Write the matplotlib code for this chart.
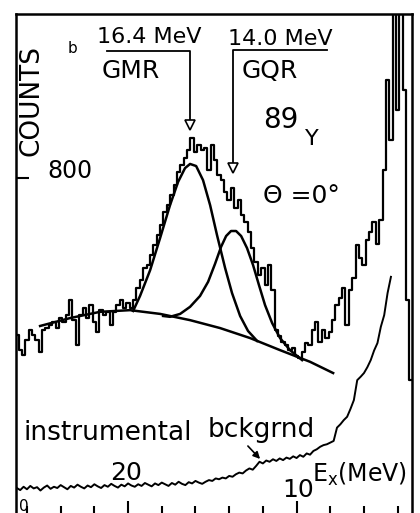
import numpy as np
import matplotlib.pyplot as plt
from matplotlib.transforms import blended_transform_factory

plt.rcParams.update({"font.family": "DejaVu Sans", "mathtext.fontset": "dejavusans"})

# 89Y spectrum at 0 deg, channels of 0.2 MeV (Ex decreasing to the right)
energy = np.linspace(26.6, 3.2, 118)
counts = [422, 386, 374, 410, 434, 422, 410, 382, 434, 439,
          446, 454, 439, 463, 454, 470, 506, 458, 398, 470,
          487, 463, 494, 454, 430, 482, 470, 478, 446, 478,
          494, 506, 487, 499, 487, 506, 535, 554, 583, 590,
          614, 638, 662, 686, 718, 734, 758, 782, 814, 830,
          847, 866, 895, 862, 878, 866, 871, 818, 878, 842,
          806, 794, 766, 746, 775, 727, 746, 710, 694, 670,
          631, 598, 566, 583, 542, 590, 530, 434, 420, 406,
          398, 386, 391, 372, 367, 382, 403, 398, 434, 454,
          406, 434, 415, 430, 458, 494, 511, 535, 446, 530,
          559, 638, 607, 590, 650, 670, 694, 641, 698, 818,
          1034, 890, 1400, 962, 1400, 1010, 506, 314]

# instrumental background (first 112 channels)
instr_counts = [55, 50, 58, 52, 60, 54, 57, 49, 56, 61,
                53, 58, 55, 62, 57, 52, 60, 56, 63, 58,
                54, 61, 57, 64, 59, 55, 62, 58, 65, 60,
                56, 63, 59, 66, 61, 58, 64, 60, 67, 63,
                59, 66, 62, 68, 64, 60, 67, 63, 70, 65,
                62, 69, 66, 72, 68, 65, 70, 74, 72, 78,
                76, 80, 78, 84, 82, 88, 92, 90, 97, 102,
                99, 108, 118, 114, 121, 118, 124, 120, 126, 122,
                128, 125, 131, 127, 134, 130, 138, 135, 144, 148,
                154, 158, 160, 164, 168, 200, 208, 218, 226, 245,
                266, 314, 322, 331, 345, 362, 385, 403, 442, 470,
                523, 562]

# fitted continuum
bg_e = [25.22, 23.44, 21.66, 19.88, 18.10, 16.32, 14.54, 12.76, 10.98, 9.20, 7.83]
bg_c = [444, 463, 478, 482, 473, 458, 439, 415, 386, 358, 331]

# GMR component (on top of continuum)
gmr_e = [19.70, 19.29, 18.69, 18.10, 17.51, 17.03, 16.62, 16.32, 15.96,
         15.55, 15.13, 14.72, 14.24, 13.83, 13.35, 12.88, 12.34]
gmr_c = [480, 516, 578, 655, 734, 790, 823, 833, 828,
         794, 734, 662, 583, 523, 468, 432, 408]

# GQR component (on top of continuum)
gqr_e = [17.92, 17.51, 16.91, 16.32, 15.73, 15.25, 14.84, 14.48, 14.18, 13.89,
         13.59, 13.29, 12.94, 12.58, 12.23, 11.87, 11.45, 10.98, 10.39, 9.67]
gqr_c = [468, 466, 473, 490, 516, 550, 593, 634, 660, 672,
         672, 660, 631, 590, 542, 494, 451, 415, 386, 362]

W, H = 420, 513
def px(x, y):
    return x / W, 1 - y / H

fig = plt.figure(figsize=(W / 100, H / 100), dpi=100)
ax = fig.add_axes([16 / W, 0, (412 - 16) / W, (513 - 14) / H])
ax.set_xlim(26.65, 3.15)
ax.set_ylim(-5, 1193)

ax.plot(energy, counts, drawstyle="steps-mid", color="k", lw=1.6)
ax.plot(energy[:len(instr_counts)], instr_counts, color="k", lw=1.4)
ax.plot(bg_e, bg_c, color="k", lw=1.8)
ax.plot(gmr_e, gmr_c, color="k", lw=1.8)
ax.plot(gqr_e, gqr_c, color="k", lw=1.8)

# arrows to resonance centroids
ax.plot([21.25, 16.3, 16.3], [1104, 1104, 935], color="k", lw=1.3)
ax.plot([16.3], [926], marker="v", ms=7, mfc="white", mec="k", mew=1.2)
ax.plot([8.2, 13.8, 13.8], [1106, 1106, 833], color="k", lw=1.3)
ax.plot([13.8], [823], marker="v", ms=7, mfc="white", mec="k", mew=1.2)

ax.set_xticks([10, 20])
ax.set_xticks(np.arange(4, 27, 2), minor=True)
ax.tick_params(axis="x", which="major", direction="in", length=9, width=1.5, labelbottom=False)
ax.tick_params(axis="x", which="minor", direction="in", length=5, width=1.5)
ax.set_yticks([800])
ax.tick_params(axis="y", direction="in", length=9, width=1.5, labelleft=False)
ax.spines["bottom"].set_visible(False)
for s in ("left", "top", "right"):
    ax.spines[s].set_linewidth(1.8)

tr = blended_transform_factory(ax.transAxes, ax.transData)
ax.text(31 / 396, 800, "800", transform=tr, fontsize=17, ha="left", va="baseline")

def label(x, y, s, size, **kw):
    kw.setdefault("ha", "left")
    kw.setdefault("va", "baseline")
    fig.text(*px(x, y), s, fontsize=size, **kw)

label(31, 100, "COUNTS", 19, rotation=90, ha="center", va="center")
label(68, 53, "b", 11)
label(97, 43, "16.4 MeV", 16)
label(102, 78, "GMR", 18)
label(228, 45, "14.0 MeV", 16)
label(242, 78, "GQR", 18)
label(263, 128, "89", 20)
label(305, 145, "Y", 16)
label(263, 203, "Θ =0°", 18)
label(24, 440, "instrumental", 19)
label(208, 437, "bckgrnd", 19)
label(110, 480, "20", 18)
label(282, 497, "10", 18)
label(312, 482, r"E$_\mathrm{x}$(MeV)", 17)
label(19, 511, "0", 11)

ax.annotate("", xy=px(262, 461), xytext=px(246, 444), xycoords="figure fraction",
            textcoords="figure fraction",
            arrowprops=dict(arrowstyle="-|>", color="k", lw=1.2, mutation_scale=10))

fig.savefig("out.png", dpi=100)
